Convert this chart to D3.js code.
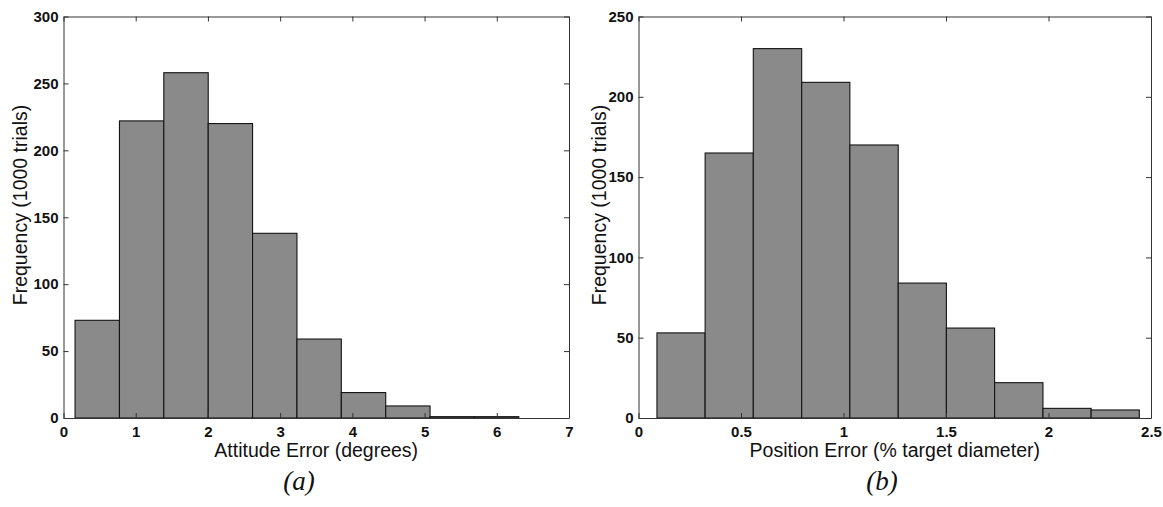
<!DOCTYPE html>
<html>
<head>
<meta charset="utf-8">
<script src="https://cdn.jsdelivr.net/npm/d3@7"></script>
<style>
  html, body { margin: 0; padding: 0; background: #fff; }
  svg { display: block; }
  .tick text { font-family: "Liberation Sans", Arial, sans-serif; font-size: 15px; font-weight: bold; fill: #111; }
  .axis path, .axis line { stroke: #333; }
</style>
</head>
<body>
<svg id="chart" width="1163" height="507"></svg>
<script>
// ---- Data ----
// Panel (a): Attitude error histogram
const attitudeBinEdges = [0.160, 0.775, 1.389, 2.004, 2.618, 3.233, 3.847, 4.462, 5.076, 5.691, 6.305];
const attitudeCounts   = [73, 222, 258, 220, 138, 59, 19, 9, 1, 1];
const attitudeXTicks   = [0, 1, 2, 3, 4, 5, 6, 7];
const attitudeYTicks   = [0, 50, 100, 150, 200, 250, 300];

// Panel (b): Position error histogram
const positionBinEdges = [0.090, 0.325, 0.560, 0.796, 1.031, 1.267, 1.502, 1.737, 1.973, 2.208, 2.443];
const positionCounts   = [53, 165, 230, 209, 170, 84, 56, 22, 6, 5];
const positionXTicks   = [0, 0.5, 1, 1.5, 2, 2.5];
const positionYTicks   = [0, 50, 100, 150, 200, 250];

const xLabels  = ["Attitude Error (degrees)", "Position Error (% target diameter)"];
const yLabel   = "Frequency (1000 trials)";
const captions = ["(a)", "(b)"];

// ---- Layout ----
const svg = d3.select("#chart");
const panels = [
  { left: 63.5, right: 569, top: 16.5, bottom: 418,
    edges: attitudeBinEdges, counts: attitudeCounts,
    xTicks: attitudeXTicks, yTicks: attitudeYTicks,
    xLabel: xLabels[0], caption: captions[0], yLabelX: 20, captionX: 299 },
  { left: 638.5, right: 1151, top: 16.5, bottom: 418,
    edges: positionBinEdges, counts: positionCounts,
    xTicks: positionXTicks, yTicks: positionYTicks,
    xLabel: xLabels[1], caption: captions[1], yLabelX: 599, captionX: 882 }
];

panels.forEach(p => {
  const x = d3.scaleLinear()
    .domain([p.xTicks[0], p.xTicks[p.xTicks.length - 1]])
    .range([p.left, p.right]);
  const y = d3.scaleLinear()
    .domain([p.yTicks[0], p.yTicks[p.yTicks.length - 1]])
    .range([p.bottom, p.top]);

  const bins = p.counts.map((c, i) => ({ x0: p.edges[i], x1: p.edges[i + 1], count: c }));

  const g = svg.append("g");

  // bars
  g.selectAll("rect.bar").data(bins).join("rect")
    .attr("class", "bar")
    .attr("x", d => x(d.x0))
    .attr("width", d => x(d.x1) - x(d.x0))
    .attr("y", d => y(d.count))
    .attr("height", d => y(0) - y(d.count))
    .attr("fill", "#8a8a8a")
    .attr("stroke", "#141414")
    .attr("stroke-width", 1.1);

  // axes (ticks pointing inward on all four sides)
  g.append("g").attr("class", "axis")
    .attr("transform", `translate(0,${p.bottom})`)
    .call(d3.axisBottom(x).tickValues(p.xTicks).tickSizeInner(-5).tickSizeOuter(0).tickPadding(8).tickFormat(d3.format("")));
  g.append("g").attr("class", "axis")
    .attr("transform", `translate(0,${p.top})`)
    .call(d3.axisTop(x).tickValues(p.xTicks).tickSizeInner(-5).tickSizeOuter(0).tickFormat(""));
  g.append("g").attr("class", "axis")
    .attr("transform", `translate(${p.left},0)`)
    .call(d3.axisLeft(y).tickValues(p.yTicks).tickSizeInner(-5).tickSizeOuter(0).tickPadding(5));
  g.append("g").attr("class", "axis")
    .attr("transform", `translate(${p.right},0)`)
    .call(d3.axisRight(y).tickValues(p.yTicks).tickSizeInner(-5).tickSizeOuter(0).tickFormat(""));

  g.selectAll(".axis .tick text").attr("fill", "#111");

  // axis titles
  g.append("text")
    .attr("x", (p.left + p.right) / 2)
    .attr("y", 457)
    .attr("text-anchor", "middle")
    .attr("font-family", "Liberation Sans, Arial, sans-serif")
    .attr("font-size", 19.5)
    .attr("fill", "#111")
    .text(p.xLabel);

  g.append("text")
    .attr("transform", `translate(${p.yLabelX + 7},205) rotate(-90)`)
    .attr("text-anchor", "middle")
    .attr("font-family", "Liberation Sans, Arial, sans-serif")
    .attr("font-size", 19.5)
    .attr("fill", "#111")
    .text(yLabel);

  // caption
  g.append("text")
    .attr("x", p.captionX)
    .attr("y", 490)
    .attr("text-anchor", "middle")
    .attr("font-family", "Liberation Serif, Times New Roman, serif")
    .attr("font-style", "italic")
    .attr("font-size", 27)
    .attr("fill", "#111")
    .text(p.caption);
});
</script>
</body>
</html>
